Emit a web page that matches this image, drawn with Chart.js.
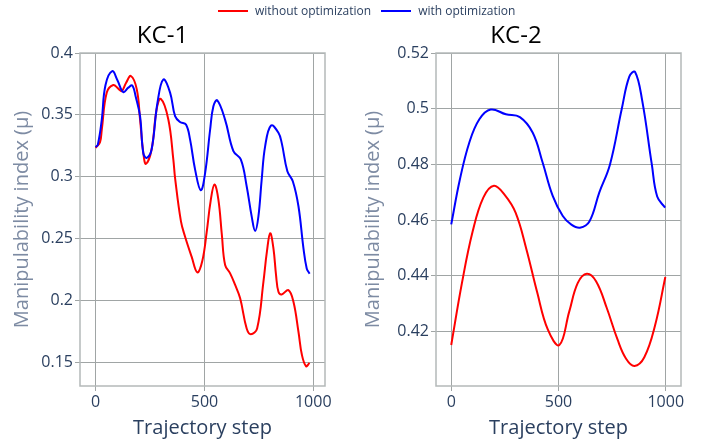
<!DOCTYPE html>
<html>
<head>
<meta charset="utf-8">
<script src="https://cdn.jsdelivr.net/npm/chart.js@4.4.0/dist/chart.umd.min.js"></script>
<style>
body { margin: 0; background: #fff; }
#wrap { position: relative; width: 702px; height: 445px; font-family: "Open Sans", sans-serif; }
#c1 { position: absolute; left: 0; top: 0; }
#c2 { position: absolute; left: 351px; top: 0; }
#legend { position: absolute; top: 2px; left: 218px; display: flex; align-items: center; font-size: 12px; color: #2a3f5f; white-space: nowrap; }
#legend .item { display: flex; align-items: center; margin-right: 10px; }
#legend .swatch { width: 30px; height: 2px; margin-right: 7px; }
</style>
</head>
<body>
<div id="wrap">
  <canvas id="c1" width="351" height="445"></canvas>
  <canvas id="c2" width="351" height="445"></canvas>
  <div id="legend"></div>
</div>
<script>
var seriesNames = ['without optimization', 'with optimization'];
var seriesColors = ['#ff0000', '#0000ff'];
var xTicks = [0, 500, 1000];

// KC-1
var kc1StepsWithout = [0, 20, 28, 51, 81, 105, 120, 140, 162, 189, 204, 219, 231, 257, 280, 299, 334, 357, 365, 392, 411, 441, 467, 490, 510, 528, 546, 564, 580, 595, 618, 640, 664, 694, 713, 742, 771, 787, 802, 817, 829, 840, 855, 886, 909, 932, 948, 967, 983];
var kc1Without = [0.3234, 0.328, 0.338, 0.368, 0.3741, 0.371, 0.3692, 0.376, 0.3814, 0.3706, 0.3463, 0.3193, 0.3104, 0.322, 0.3544, 0.363, 0.3463, 0.3139, 0.299, 0.264, 0.2516, 0.2355, 0.2228, 0.232, 0.255, 0.280, 0.2937, 0.2816, 0.253, 0.2287, 0.222, 0.213, 0.2018, 0.1775, 0.1729, 0.1775, 0.2152, 0.2395, 0.2544, 0.2422, 0.2206, 0.2071, 0.205, 0.2085, 0.199, 0.1748, 0.156, 0.147, 0.1497];
var kc1StepsWith = [0, 10, 28, 45, 76, 100, 127, 150, 168, 185, 204, 219, 235, 257, 284, 311, 342, 365, 388, 415, 434, 457, 483, 503, 526, 541, 559, 595, 633, 667, 694, 717, 733, 748, 763, 779, 806, 840, 855, 881, 906, 932, 955, 970, 983];
var kc1With = [0.324, 0.326, 0.346, 0.374, 0.3854, 0.378, 0.3684, 0.372, 0.3738, 0.364, 0.349, 0.319, 0.3153, 0.322, 0.3598, 0.3786, 0.368, 0.349, 0.3442, 0.3422, 0.330, 0.3058, 0.2891, 0.303, 0.338, 0.357, 0.3617, 0.346, 0.3207, 0.314, 0.2924, 0.268, 0.2562, 0.268, 0.2977, 0.3248, 0.3414, 0.3355, 0.3274, 0.3045, 0.2964, 0.2762, 0.2422, 0.226, 0.2217];
var kc1YTicks = [0.15, 0.2, 0.25, 0.3, 0.35, 0.4];

// KC-2
var kc2StepsWithout = [0, 50, 100, 150, 199, 250, 300, 350, 400, 450, 504, 550, 590, 632, 675, 725, 775, 815, 854, 900, 950, 998];
var kc2Without = [0.4152, 0.4375, 0.456, 0.4682, 0.4724, 0.469, 0.4627, 0.4497, 0.4343, 0.4208, 0.4152, 0.4272, 0.4375, 0.4408, 0.4381, 0.4285, 0.4172, 0.4103, 0.4077, 0.4108, 0.4222, 0.4396];
var kc2StepsWith = [0, 40, 84, 131, 184, 255, 320, 380, 426, 473, 520, 560, 600, 644, 690, 740, 795, 830, 857, 890, 935, 960, 997];
var kc2With = [0.4585, 0.4745, 0.4878, 0.4962, 0.4997, 0.498, 0.497, 0.4914, 0.4807, 0.4687, 0.4615, 0.4584, 0.4573, 0.4595, 0.4699, 0.480, 0.500, 0.5115, 0.5132, 0.503, 0.480, 0.4685, 0.4645];
var kc2YTicks = [0.42, 0.44, 0.46, 0.48, 0.5, 0.52];

// legend (shared by both plots)
var legendHtml = '';
for (var i = 0; i < seriesNames.length; i++) {
    legendHtml += '<div class="item"><div class="swatch" style="background:' + seriesColors[i] + '"></div>' + seriesNames[i] + '</div>';
}
document.getElementById('legend').innerHTML = legendHtml;

function toPoints(xs, ys) {
    return xs.map(function (x, i) { return {x: x, y: ys[i]}; });
}

// box round the plot area
var framePlugin = {
    id: 'frame',
    beforeDatasetsDraw: function (chart) {
        var a = chart.chartArea, ctx = chart.ctx;
        ctx.save();
        ctx.strokeStyle = '#b4b9b9';
        ctx.lineWidth = 1.5;
        ctx.strokeRect(a.left, a.top, a.right - a.left, a.bottom - a.top);
        ctx.restore();
    }
};

var gridColor = '#a0a5a5';
var tickFont = {family: 'Open Sans', size: 16};
var axisTitleFont = {family: 'Open Sans', size: 20};

function plain(v) { return String(+v.toFixed(3)); }

function makeChart(id, title, stepsA, valsA, stepsB, valsB, xMin, xMax, yMin, yMax, yTicks, yWidth, padRight) {
    var ctx = document.getElementById(id).getContext('2d');
    return new Chart(ctx, {
        type: 'line',
        data: {
            datasets: [{
                label: seriesNames[0],
                data: toPoints(stepsA, valsA),
                borderColor: seriesColors[0],
                borderWidth: 2,
                pointRadius: 0,
                tension: 0.4,
                order: 1
            }, {
                label: seriesNames[1],
                data: toPoints(stepsB, valsB),
                borderColor: seriesColors[1],
                borderWidth: 2,
                pointRadius: 0,
                tension: 0.4,
                order: 0
            }]
        },
        options: {
            responsive: false,
            animation: false,
            layout: {padding: {left: 0, right: padRight, top: 0, bottom: 0}},
            plugins: {
                legend: {display: false},
                tooltip: {enabled: false},
                title: {
                    display: true,
                    text: title,
                    color: '#000',
                    font: {family: 'Open Sans', size: 24, weight: 'normal', lineHeight: 1},
                    padding: {top: 24, bottom: 5}
                }
            },
            scales: {
                x: {
                    type: 'linear',
                    min: xMin,
                    max: xMax,
                    afterBuildTicks: function (s) { s.ticks = xTicks.map(function (v) { return {value: v}; }); },
                    afterFit: function (s) { s.height = 59; },
                    grid: {color: gridColor, tickColor: gridColor, tickLength: 5},
                    border: {display: false},
                    ticks: {color: '#2a3f5f', font: tickFont, padding: 2, maxRotation: 0, callback: plain},
                    title: {display: true, text: 'Trajectory step', color: '#2a3f5f', font: axisTitleFont, padding: {top: 0, bottom: 5}}
                },
                y: {
                    min: yMin,
                    max: yMax,
                    afterBuildTicks: function (s) { s.ticks = yTicks.map(function (v) { return {value: v}; }); },
                    afterFit: function (s) { s.width = yWidth; },
                    grid: {color: gridColor, tickColor: gridColor, tickLength: 5},
                    border: {display: false},
                    ticks: {color: '#2a3f5f', font: tickFont, padding: 2, callback: plain},
                    title: {display: true, text: 'Manipulability index (\u03bc)', color: '#7d8ba3', font: axisTitleFont, padding: {top: 10, bottom: 0}}
                }
            }
        },
        plugins: [framePlugin]
    });
}

makeChart('c1', 'KC-1', kc1StepsWithout, kc1Without, kc1StepsWith, kc1With, -72, 1054, 0.131, 0.4, kc1YTicks, 80, 26);
makeChart('c2', 'KC-2', kc2StepsWithout, kc2Without, kc2StepsWith, kc2With, -71, 1071, 0.4005, 0.52, kc2YTicks, 85, 21);
</script>
</body>
</html>
